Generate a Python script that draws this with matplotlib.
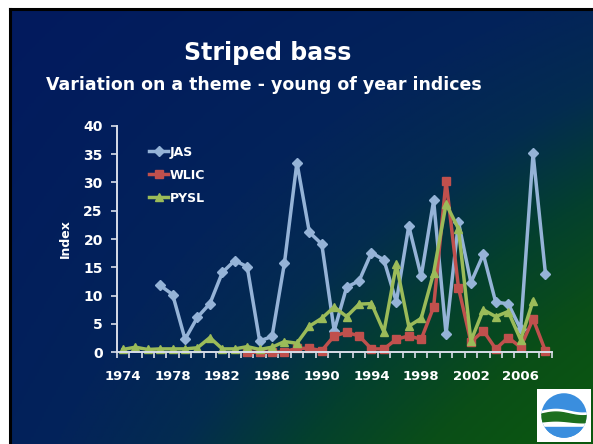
import numpy as np
import matplotlib
matplotlib.use("Agg")
import matplotlib.pyplot as plt
from matplotlib.colors import LinearSegmentedColormap
from matplotlib.patches import Circle, Polygon, Rectangle

years = list(range(1974, 2009))
nan = np.nan
jas = [nan, nan, nan, 11.8, 10.2, 2.3, 6.2, 8.6, 14.1, 16.2, 15.1, 2.0, 2.8,
       15.8, 33.5, 21.2, 19.1, 3.8, 11.5, 12.6, 17.6, 16.3, 8.9, 22.3, 13.4,
       26.8, 3.2, 23.0, 12.3, 17.3, 8.8, 8.6, 4.1, 35.1, 13.8]
wlic = [nan] * 10 + [0.0, 0.0, 0.0, 0.1, 0.7, 0.7, 0.3, 2.9, 3.5, 2.9, 0.6,
                     0.6, 2.3, 2.9, 2.3, 8.0, 30.3, 11.4, 1.8, 3.8, 0.6, 2.6,
                     0.9, 5.9, 0.2]
pysl = [0.5, 0.9, 0.5, 0.6, 0.6, 0.6, 0.8, 2.6, 0.6, 0.6, 1.0, 0.5, 0.9, 1.9,
        1.6, 4.6, 6.0, 8.0, 6.3, 8.5, 8.6, 3.6, 15.5, 4.6, 6.0, 14.0, 26.2,
        21.8, 2.0, 7.5, 6.3, 7.2, 2.2, 9.1, nan]
series = [("JAS", jas, "#95b3d7", "D", 5.5),
          ("WLIC", wlic, "#c0504d", "s", 5.5),
          ("PYSL", pysl, "#9bbb59", "^", 6)]

W, H = 593, 444
fig = plt.figure(figsize=(W / 100, H / 100), dpi=100, facecolor="white")

# slide background: navy top-left fading to green bottom-right, black edge
bg = fig.add_axes([9.5 / W, -0.02, 1.05 - 9.5 / W, 1.02 - 9.5 / H], zorder=-5)
gx, gy = np.meshgrid(np.linspace(0, 1, 300), np.linspace(0, 1, 300))
t = np.clip(0.35 * gx + 0.25 * gy + 0.4 * gx * gy, 0, 1)
cmap = LinearSegmentedColormap.from_list(
    "slide", [(0, "#021a5e"), (0.3, "#03235a"), (0.45, "#032c50"),
              (0.6, "#04402e"), (0.75, "#0a4e18"), (1, "#0c5c0c")])
bg.imshow(t, cmap=cmap, extent=[0, 1, 0, 1], aspect="auto", vmin=0, vmax=1)
bg.set_xticks([])
bg.set_yticks([])
for side in ("right", "bottom"):
    bg.spines[side].set_visible(False)
for side in ("left", "top"):
    bg.spines[side].set_color("black")
    bg.spines[side].set_linewidth(2.2)

fig.text(0.452, 0.88, "Striped bass", color="white", fontsize=17,
         fontweight="bold", ha="center", va="center")
fig.text(0.445, 0.808, "Variation on a theme - young of year indices",
         color="white", fontsize=12.5, fontweight="bold", ha="center",
         va="center")

ax = fig.add_axes([116.7 / W, 1 - 352.3 / H, 435 / W, 226.6 / H])
ax.set_facecolor("none")
x = np.arange(len(years))
for name, vals, color, marker, ms in series:
    ax.plot(x, vals, color=color, lw=2.5, marker=marker, ms=ms,
            markeredgecolor=color, label=name, clip_on=False)

ax.set_xlim(-0.5, len(years) - 0.5)
ax.set_ylim(0, 40)
ax.set_yticks(range(0, 41, 5))
ax.set_xticks(x[::4])
ax.set_xticklabels([str(y) for y in years[::4]])
ax.set_xticks(np.arange(-0.5, len(years), 1), minor=True)
for s in ("top", "right"):
    ax.spines[s].set_visible(False)
for s in ("left", "bottom"):
    ax.spines[s].set_color("#d8dde8")
    ax.spines[s].set_linewidth(1.4)
ax.tick_params(axis="x", which="major", length=0, pad=13, labelcolor="white",
               labelsize=9.5)
ax.tick_params(axis="x", which="minor", length=4, width=1.2, color="#d8dde8",
               direction="out")
ax.tick_params(axis="y", length=4, width=1.2, color="#d8dde8", pad=6,
               labelcolor="white", labelsize=10)
for lab in ax.get_xticklabels() + ax.get_yticklabels():
    lab.set_fontweight("bold")
ax.set_ylabel("Index", color="white", fontsize=9, fontweight="bold",
              labelpad=8)

leg = ax.legend(loc="upper left", bbox_to_anchor=(0.075, 0.912), frameon=False,
                borderpad=0, borderaxespad=0, handlelength=1.5,
                handletextpad=0.15, labelspacing=0.8,
                prop={"weight": "bold", "size": 9})
for txt in leg.get_texts():
    txt.set_color("white")

# small round logo at the bottom right
lg = fig.add_axes([537 / W, 2 / H, 54 / W, 53 / H])
lg.set_xlim(0, 1)
lg.set_ylim(0, 1)
lg.set_xticks([])
lg.set_yticks([])
lg.set_facecolor("white")
for s in lg.spines.values():
    s.set_visible(False)
clip = Circle((0.5, 0.5), 0.42, transform=lg.transData, facecolor="none",
              edgecolor="none")
lg.add_patch(clip)
wx = np.linspace(0, 1, 40)
wave = 0.035 * np.sin((wx - 0.1) * 2 * np.pi)
parts = [
    Rectangle((0, 0), 1, 1, color="#3a8ede"),
    Polygon(np.r_[np.c_[wx, 0.58 + wave], [[1, 0.25], [0, 0.25]]],
            color="white"),
    Polygon(np.r_[np.c_[wx, 0.53 + wave], np.c_[wx[::-1], 0.38 + wave[::-1] * 0.5]],
            color="#1c6e1e"),
    Rectangle((0, 0.05), 1, 0.24, color="#3a8ede"),
]
for p in parts:
    lg.add_patch(p)
    p.set_clip_path(clip)

fig.savefig("out.png", dpi=100, facecolor="white")
